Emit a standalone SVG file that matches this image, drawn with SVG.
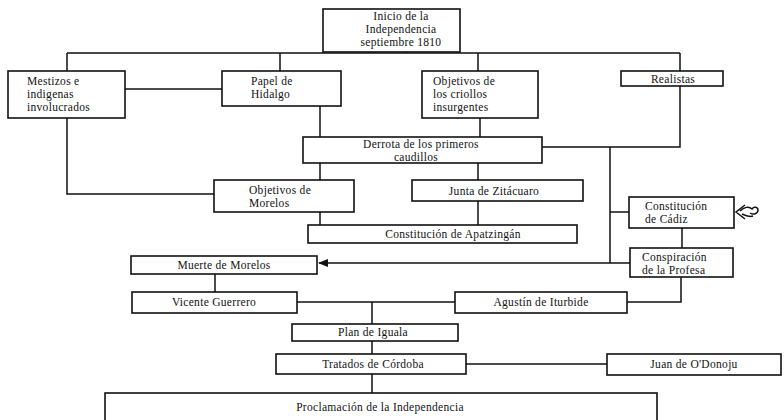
<svg xmlns="http://www.w3.org/2000/svg" width="784" height="420" viewBox="0 0 784 420">
<defs>
<style>
.b{fill:#fff;stroke:#111;stroke-width:1.6}
.t{font-family:"Liberation Serif","DejaVu Serif",serif;font-size:11.5px;letter-spacing:0.3px;fill:#111}
.m{text-anchor:middle}
.c{fill:none;stroke:#111;stroke-width:1.5}
</style>
<marker id="ah" viewBox="0 0 10 10" refX="9" refY="5" markerWidth="7" markerHeight="7" orient="auto">
<path d="M0,1 L10,5 L0,9 Z" fill="#111"/>
</marker>
</defs>
<rect width="784" height="420" fill="#fff"/>
<g id="connectors">
<path class="c" d="M407,52 V53 M67,53 H680 M67,53 V71 M280,53 V71 M478,53 V71 M680,53 V71"/>
<path class="c" d="M125,89 H222"/>
<path class="c" d="M67,118 V194 H214"/>
<path class="c" d="M320,106 V137"/>
<path class="c" d="M480,118 V137"/>
<path class="c" d="M680,86 V147 H542"/>
<path class="c" d="M320,163 V180"/>
<path class="c" d="M478,163 V180"/>
<path class="c" d="M320,212 V225"/>
<path class="c" d="M478,201 V225"/>
<path class="c" d="M610,147 V263 M610,212 H629"/>
<path class="c" d="M682,228 V248"/>
<path class="c" d="M630,263 H319" marker-end="url(#ah)"/>
<path class="c" d="M215,274 V292"/>
<path class="c" d="M297,302 H455"/>
<path class="c" d="M627,302 H681 V277"/>
<path class="c" d="M372,302 V324 M372,341 V354 M372,374 V393"/>
<path class="c" d="M466,364 H607"/>
<path class="c" stroke-width="1.8" d="M745,205 L736,212 L745,219 M740,211 C744,207 749,206 752,209 C754,206 758,207 758,210 C758,214 753,215 750,213 M742,214 C746,216 750,217 753,216"/>
</g>
<g id="n-inicio">
<rect class="b" x="323" y="9" width="137" height="43"/>
<text class="t m" x="401" y="20">Inicio de la</text>
<text class="t m" x="401" y="33">Independencia</text>
<text class="t m" x="401" y="46">septiembre 1810</text>
</g>
<g id="n-mestizos">
<rect class="b" x="8" y="71" width="117" height="47"/>
<text class="t" x="27" y="85">Mestizos e</text>
<text class="t" x="27" y="98">indigenas</text>
<text class="t" x="27" y="111">involucrados</text>
</g>
<g id="n-papel">
<rect class="b" x="222" y="71" width="119" height="35"/>
<text class="t" x="251" y="85">Papel de</text>
<text class="t" x="251" y="98">Hidalgo</text>
</g>
<g id="n-criollos">
<rect class="b" x="422" y="71" width="116" height="47"/>
<text class="t" x="433" y="85">Objetivos de</text>
<text class="t" x="433" y="98">los criollos</text>
<text class="t" x="433" y="111">insurgentes</text>
</g>
<g id="n-realistas">
<rect class="b" x="621" y="71" width="102" height="15"/>
<text class="t m" x="673" y="83">Realistas</text>
</g>
<g id="n-derrota">
<rect class="b" x="303" y="137" width="239" height="26"/>
<text class="t m" x="421" y="148">Derrota de los primeros</text>
<text class="t m" x="416" y="161">caudillos</text>
</g>
<g id="n-objmorelos">
<rect class="b" x="214" y="180" width="140" height="32"/>
<text class="t" x="249" y="194">Objetivos de</text>
<text class="t" x="249" y="207">Morelos</text>
</g>
<g id="n-junta">
<rect class="b" x="412" y="180" width="171" height="21"/>
<text class="t m" x="494" y="195">Junta de Zitácuaro</text>
</g>
<g id="n-apatzingan">
<rect class="b" x="308" y="225" width="269" height="18"/>
<text class="t m" x="453" y="238">Constitución de Apatzingán</text>
</g>
<g id="n-cadiz">
<rect class="b" x="629" y="197" width="105" height="31"/>
<text class="t" x="645" y="210">Constitución</text>
<text class="t" x="645" y="223">de Cádiz</text>
</g>
<g id="n-profesa">
<rect class="b" x="630" y="248" width="103" height="29"/>
<text class="t" x="642" y="261">Conspiración</text>
<text class="t" x="642" y="274">de la Profesa</text>
</g>
<g id="n-muerte">
<rect class="b" x="131" y="256" width="186" height="18"/>
<text class="t m" x="224" y="269">Muerte de Morelos</text>
</g>
<g id="n-vicente">
<rect class="b" x="132" y="292" width="165" height="21"/>
<text class="t m" x="214" y="306">Vicente Guerrero</text>
</g>
<g id="n-iturbide">
<rect class="b" x="455" y="292" width="172" height="21"/>
<text class="t m" x="541" y="306">Agustín de Iturbide</text>
</g>
<g id="n-iguala">
<rect class="b" x="292" y="324" width="166" height="17"/>
<text class="t m" x="373" y="336">Plan de Iguala</text>
</g>
<g id="n-cordoba">
<rect class="b" x="276" y="354" width="190" height="20"/>
<text class="t m" x="373" y="368">Tratados de Córdoba</text>
</g>
<g id="n-odonoju">
<rect class="b" x="607" y="354" width="174" height="21"/>
<text class="t m" x="694" y="368">Juan de O'Donoju</text>
</g>
<g id="n-proclamacion">
<rect class="b" x="105" y="393" width="552" height="40"/>
<text class="t m" x="380" y="411">Proclamación de la Independencia</text>
</g>
</svg>
